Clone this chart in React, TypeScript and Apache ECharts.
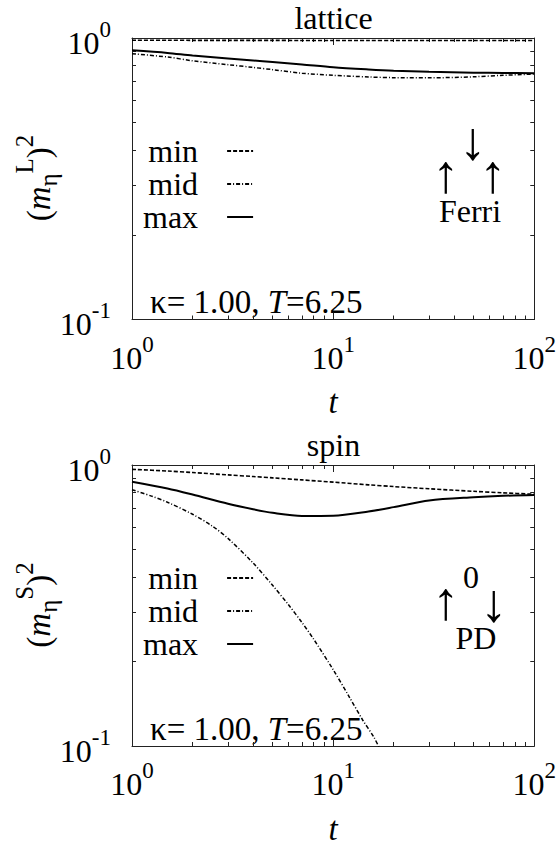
import React, { useEffect, useRef } from 'react';
import * as echarts from 'echarts';

const FONT = 'Liberation Serif, serif';
const AX = '#222';

// ---- lattice panel data ----
const T_LAT = [1, 1.5, 2, 3, 4, 5, 7, 10, 15, 20, 30, 50, 70, 100];
const LAT_MIN = [0.982, 0.982, 0.981, 0.981, 0.981, 0.981, 0.98, 0.98, 0.98, 0.98, 0.98, 0.98, 0.98, 0.98];
const LAT_MID = [0.879, 0.856, 0.830, 0.804, 0.786, 0.772, 0.750, 0.737, 0.727, 0.723, 0.722, 0.728, 0.737, 0.745];
const LAT_MAX = [0.904, 0.885, 0.866, 0.846, 0.832, 0.821, 0.805, 0.787, 0.773, 0.765, 0.758, 0.753, 0.751, 0.750];

// ---- spin panel data ----
const T_SPIN = [1, 1.5, 2, 3, 4, 5, 7, 10, 15, 20, 30, 50, 70, 100];
const SPIN_MIN = [0.965, 0.952, 0.940, 0.922, 0.910, 0.900, 0.885, 0.869, 0.850, 0.838, 0.823, 0.806, 0.796, 0.787];
const SPIN_MAX = [0.872, 0.825, 0.785, 0.728, 0.696, 0.676, 0.659, 0.660, 0.683, 0.708, 0.748, 0.768, 0.777, 0.782];
const T_SPIN_MID = [1, 1.25, 1.5, 2, 2.5, 3, 4, 5, 6, 7, 8, 10, 12, 14, 16, 17.5];
const SPIN_MID = [0.817, 0.775, 0.737, 0.668, 0.607, 0.548, 0.448, 0.373, 0.318, 0.275, 0.240, 0.187, 0.150, 0.124, 0.107, 0.094];

// ---- ticks ----
const X_TICKS = [1, 10, 100];
const X_TICK_EXP = ['0', '1', '2'];
const Y_TICKS = [0.1, 1];
const Y_TICK_EXP = ['-1', '0'];
const X_MINOR = [2, 3, 4, 5, 6, 7, 8, 9, 20, 30, 40, 50, 60, 70, 80, 90];
const Y_MINOR = [0.2, 0.3, 0.4, 0.5, 0.6, 0.7, 0.8, 0.9];

const SERIES_NAMES = ['min', 'mid', 'max'];
const PANEL_TITLES = ['lattice', 'spin'];
const PANEL_SUP = ['L', 'S'];
const KAPPA_TEXT = 'κ= 1.00, {it|T}=6.25';
const STATE_LAT = ['↓', '↑', '↑', 'Ferri'];
const STATE_SPIN = ['0', '↑', '↓', 'PD'];

// layout
const GRID_LEFT = 132;
const GRID_W = 403;
const GRID_H = 281.5;
const GRID_TOP = [38, 465];
const PANEL_DY = 427;
const STATE_POS = [
  [[473, 141], [446, 174], [493, 174], [470, 211]],
  [[471, 577], [446, 601], [494, 603], [476, 638]],
];

const tickRich = {
  b: { fontFamily: FONT, fontSize: 32, color: '#000', padding: [9, 0, 0, 0], verticalAlign: 'top' },
  s: { fontFamily: FONT, fontSize: 23, color: '#000', verticalAlign: 'top' },
};

function fmt(ticks: number[], exps: string[]) {
  return (v: number) => {
    const i = ticks.findIndex((t) => Math.abs(t - v) / t < 1e-6);
    if (i < 0) return '';
    return `{b|10}{s|${exps[i]}}`;
  };
}

function buildOption() {
  const grids: any[] = [];
  const xAxes: any[] = [];
  const yAxes: any[] = [];
  const mainX: number[] = [];
  const mainY: number[] = [];
  const lineSt = { color: AX, width: 1 };
  const majorTick = { show: true, inside: true, length: 7, lineStyle: lineSt };

  GRID_TOP.forEach((top, gi) => {
    grids.push({ left: GRID_LEFT, top, width: GRID_W, height: GRID_H, containLabel: false });
    const base = { gridIndex: gi, type: 'log', logBase: 10, splitLine: { show: false } };
    const xBase = { ...base, min: X_TICKS[0], max: X_TICKS[X_TICKS.length - 1] };
    const yBase = { ...base, min: Y_TICKS[0], max: Y_TICKS[Y_TICKS.length - 1] };
    const framed = { axisLine: { show: true, onZero: false, lineStyle: lineSt }, axisTick: majorTick };
    const minor = (vals: number[]) => ({
      axisLine: { show: false, onZero: false },
      axisLabel: { show: false },
      axisTick: { show: true, inside: true, length: 4, lineStyle: lineSt, customValues: vals },
    });

    mainX[gi] = xAxes.length;
    xAxes.push({
      ...xBase, ...framed, position: 'bottom',
      axisLabel: { show: true, margin: 13, formatter: fmt(X_TICKS, X_TICK_EXP), rich: tickRich, showMinLabel: true, showMaxLabel: true },
      name: 't', nameLocation: 'middle', nameGap: 66,
      nameTextStyle: { fontFamily: FONT, fontSize: 33, fontStyle: 'italic', color: '#000' },
    });
    xAxes.push({ ...xBase, ...framed, position: 'top', axisLabel: { show: false } });
    xAxes.push({ ...xBase, ...minor(X_MINOR), position: 'bottom' });
    xAxes.push({ ...xBase, ...minor(X_MINOR), position: 'top' });

    mainY[gi] = yAxes.length;
    yAxes.push({
      ...yBase, ...framed, position: 'left',
      axisLabel: { show: true, margin: 21, formatter: fmt(Y_TICKS, Y_TICK_EXP), rich: tickRich, showMinLabel: true, showMaxLabel: true },
    });
    yAxes.push({ ...yBase, ...framed, position: 'right', axisLabel: { show: false } });
    yAxes.push({ ...yBase, ...minor(Y_MINOR), position: 'left' });
    yAxes.push({ ...yBase, ...minor(Y_MINOR), position: 'right' });
  });

  const styles: any = {
    min: { color: '#000', width: 1.6, type: [4, 2] },
    mid: { color: '#000', width: 1.5, type: [4, 2, 1, 2] },
    max: { color: '#000', width: 2, type: 'solid' },
  };
  const mk = (name: string, xs: number[], ys: number[], gi: number) => ({
    type: 'line', name, xAxisIndex: mainX[gi], yAxisIndex: mainY[gi],
    data: xs.map((x, i) => [x, ys[i]]), symbol: 'none', showSymbol: false,
    smooth: 0.3, lineStyle: styles[name], itemStyle: { color: '#000' }, silent: true, clip: true,
  });
  const series = [
    mk('min', T_LAT, LAT_MIN, 0), mk('mid', T_LAT, LAT_MID, 0), mk('max', T_LAT, LAT_MAX, 0),
    mk('min', T_SPIN, SPIN_MIN, 1), mk('mid', T_SPIN_MID, SPIN_MID, 1), mk('max', T_SPIN, SPIN_MAX, 1),
  ];

  const legends = GRID_TOP.map((_, gi) => ({
    data: SERIES_NAMES, orient: 'vertical', left: 143, top: 135 + gi * PANEL_DY,
    align: 'right', itemWidth: 26, itemHeight: 14, itemGap: 1, padding: 0, selectedMode: false,
    itemStyle: { opacity: 0 },
    textStyle: { fontFamily: FONT, fontSize: 32, color: '#000', padding: [0, 24, 0, 0] },
  }));

  const graphics: any[] = [];
  const states = [STATE_LAT, STATE_SPIN];
  GRID_TOP.forEach((_, gi) => {
    const dy = gi * PANEL_DY;
    graphics.push({ type: 'text', x: 333.5, y: 18 + dy, silent: true,
      style: { text: PANEL_TITLES[gi], fontFamily: FONT, fontSize: 32, fill: '#000', align: 'center', verticalAlign: 'middle' } });
    graphics.push({ type: 'text', x: 36.5, y: 178 + dy, rotation: Math.PI / 2, silent: true,
      style: {
        text: `{n|(}{i|m}{sub|η}{sup|${PANEL_SUP[gi]}}{n|)}{sup|2}`,
        fontFamily: FONT, fontSize: 32, fill: '#000', align: 'center', verticalAlign: 'middle',
        rich: {
          n: { fontFamily: FONT, fontSize: 33, fill: '#000', padding: [10, 0, 0, 0], verticalAlign: 'top' },
          i: { fontFamily: FONT, fontSize: 33, fontStyle: 'italic', fill: '#000', padding: [10, 0, 0, 0], verticalAlign: 'top' },
          sub: { fontFamily: FONT, fontSize: 25, fill: '#000', padding: [24, 0, 0, 0], verticalAlign: 'top' },
          sup: { fontFamily: FONT, fontSize: 25, fill: '#000', verticalAlign: 'top' },
        },
      } });
    graphics.push({ type: 'text', x: 150, y: 302 + dy, silent: true,
      style: { text: KAPPA_TEXT, fontFamily: FONT, fontSize: 33, fill: '#000', align: 'left', verticalAlign: 'middle',
        rich: { it: { fontFamily: FONT, fontSize: 33, fontStyle: 'italic', fill: '#000' } } } });
    states[gi].forEach((t, k) => {
      const isArrow = t === '↑' || t === '↓';
      graphics.push({ type: 'text', x: STATE_POS[gi][k][0], y: STATE_POS[gi][k][1], silent: true,
        style: { text: t, fontFamily: FONT, fontSize: isArrow ? 54 : 32, fill: '#000', align: 'center', verticalAlign: 'middle' } });
    });
  });

  return {
    animation: false,
    backgroundColor: '#fff',
    textStyle: { fontFamily: FONT },
    grid: grids,
    xAxis: xAxes,
    yAxis: yAxes,
    legend: legends,
    series,
    graphic: graphics,
  };
}

export default function App() {
  const ref = useRef<HTMLDivElement>(null);
  useEffect(() => {
    if (!ref.current) return;
    const chart = echarts.init(ref.current, undefined, { renderer: 'svg' });
    chart.setOption(buildOption() as any);
    return () => chart.dispose();
  }, []);
  return <div ref={ref} style={{ position: 'fixed', left: 0, top: 0, width: 559, height: 846, background: '#fff' }} />;
}
